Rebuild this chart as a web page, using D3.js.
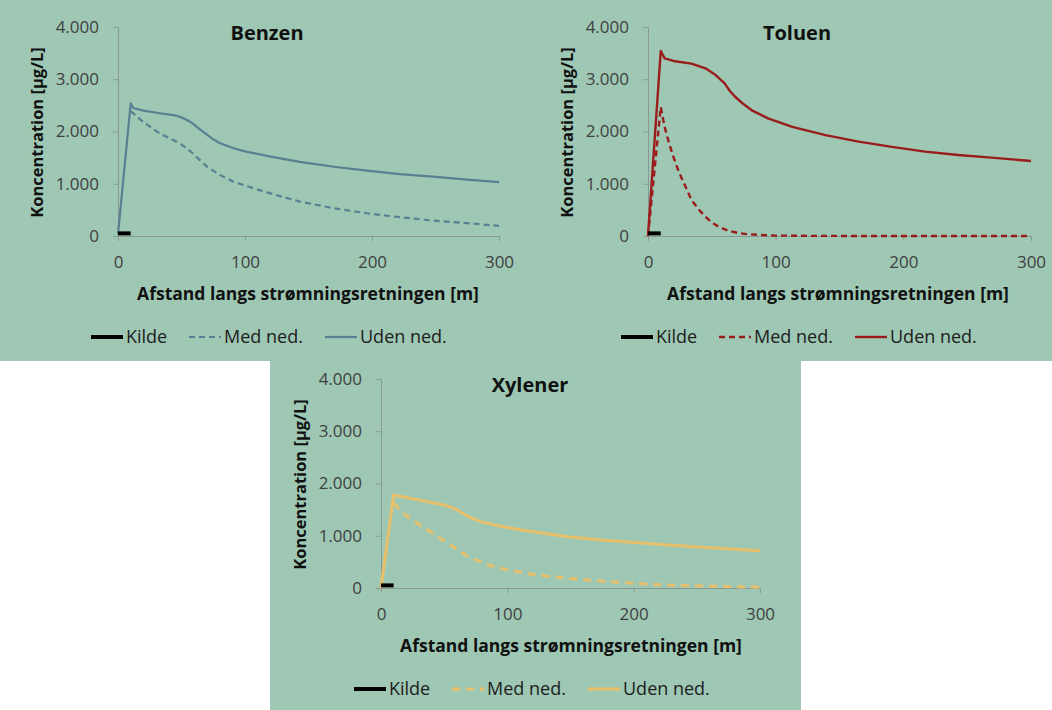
<!DOCTYPE html>
<html lang="da">
<head>
<meta charset="UTF-8">
<title>BTX koncentration</title>
<script src="https://d3js.org/d3.v7.min.js"></script>
<style>
  body { margin: 0; background: #fff; }
  svg text { font-family: "Open Sans", "Liberation Sans", sans-serif; }
</style>
</head>
<body>
<svg id="svg1" width="1052" height="710"></svg>
<script>
// data ---------------------------------------------------------------
const xTicks = [0, 100, 200, 300];
const yTicks = [0, 1000, 2000, 3000, 4000];
const legendNames = ["Kilde", "Med ned.", "Uden ned."];

const kildeX = [0, 10];
const kildeY = [50, 50];

// Benzen
const benzenUdenX = [0, 10, 12, 20, 33, 45, 51, 55, 59, 64, 70, 75, 80, 91, 100, 117, 143, 170, 196, 222, 248, 275, 300];
const benzenUdenY = [30, 2540, 2450, 2400, 2350, 2310, 2260, 2210, 2150, 2050, 1940, 1850, 1780, 1680, 1620, 1535, 1420, 1325, 1250, 1185, 1135, 1080, 1030];
const benzenMedX = [10, 20, 33, 49, 59, 65, 70, 80, 91, 107, 125, 143, 170, 196, 222, 248, 275, 300];
const benzenMedY = [2390, 2180, 1960, 1770, 1580, 1440, 1330, 1170, 1040, 910, 780, 660, 530, 435, 360, 295, 245, 195];

// Toluen
const toluenUdenX = [0, 10, 13, 20, 34, 45, 53, 60, 64, 68, 75, 81, 94, 113, 139, 165, 191, 217, 243, 269, 300];
const toluenUdenY = [0, 3540, 3400, 3350, 3300, 3210, 3080, 2920, 2780, 2670, 2520, 2410, 2250, 2090, 1930, 1805, 1705, 1615, 1550, 1500, 1435];
const toluenMedX = [0, 10, 13, 16, 19, 23, 27, 31, 34, 40, 45, 50, 55, 63, 71, 79, 87, 100, 130, 200, 300];
const toluenMedY = [0, 2470, 2090, 1820, 1580, 1300, 1070, 860, 690, 500, 370, 260, 180, 100, 55, 33, 20, 8, 2, 0, 0];

// Xylener
const xylenerUdenX = [0, 10, 16, 37, 50, 58, 64, 69, 79, 90, 111, 148, 174, 201, 227, 254, 300];
const xylenerUdenY = [0, 1780, 1750, 1650, 1590, 1525, 1440, 1365, 1270, 1205, 1110, 980, 920, 870, 825, 780, 715];
const xylenerMedX = [10, 21, 37, 53, 69, 85, 101, 122, 148, 174, 201, 227, 254, 300];
const xylenerMedY = [1620, 1365, 1110, 855, 600, 440, 345, 250, 185, 135, 90, 57, 38, 13];

// layout ---------------------------------------------------------------
const svg = d3.select("#svg1");
const bg = "#9ec8b4";

// green backgrounds: one block for the top row, one under it
svg.append("rect").attr("x", 0).attr("y", 0).attr("width", 1052).attr("height", 361).attr("fill", bg);
svg.append("rect").attr("x", 270).attr("y", 361).attr("width", 531).attr("height", 349).attr("fill", bg);

const panels = [
  { title: "Benzen", color: "#5b7f92", x0: 118, x1: 499, y0: 236, y1: 27, dash: "6,4", width: 2.2,
    uden: [benzenUdenX, benzenUdenY], med: [benzenMedX, benzenMedY] },
  { title: "Toluen", color: "#9a1c1c", x0: 648, x1: 1031, y0: 236, y1: 27, dash: "6,4", width: 2.4,
    uden: [toluenUdenX, toluenUdenY], med: [toluenMedX, toluenMedY] },
  { title: "Xylener", color: "#e8c06b", x0: 381, x1: 760, y0: 588, y1: 379, dash: "8,6", width: 3,
    uden: [xylenerUdenX, xylenerUdenY], med: [xylenerMedX, xylenerMedY] }
];

const legendOffsets = [-27, 71, 207];

panels.forEach(p => {
  const g = svg.append("g");
  const x = d3.scaleLinear().domain([0, 300]).range([p.x0, p.x1]);
  const y = d3.scaleLinear().domain([0, 4000]).range([p.y0, p.y1]);

  // axes
  const yAxis = g.append("g").attr("transform", `translate(${p.x0},0)`)
    .call(d3.axisLeft(y).tickValues(yTicks).tickSize(5).tickPadding(14)
      .tickFormat(d => d === 0 ? "0" : d3.format(",")(d).replace(",", ".")));
  const xAxis = g.append("g").attr("transform", `translate(0,${p.y0})`)
    .call(d3.axisBottom(x).tickValues(xTicks).tickSize(5).tickPadding(15));
  [xAxis, yAxis].forEach(a => {
    a.select(".domain").attr("stroke", "#8a9a93").attr("stroke-width", 1);
    a.selectAll(".tick line").attr("stroke", "#8a9a93");
    a.selectAll(".tick text").attr("fill", "#404040").attr("font-size", 17)
      .style("font-family", "'Open Sans', sans-serif");
  });

  // lines
  const line = d3.line().x(d => x(d[0])).y(d => y(d[1]));
  const zipXY = (xs, ys) => xs.map((v, i) => [v, ys[i]]);

  g.append("path").datum(zipXY(p.med[0], p.med[1]))
    .attr("d", line).attr("fill", "none").attr("stroke", p.color)
    .attr("stroke-width", p.width).attr("stroke-dasharray", p.dash)
    .attr("stroke-linejoin", "round");
  g.append("path").datum(zipXY(p.uden[0], p.uden[1]))
    .attr("d", line).attr("fill", "none").attr("stroke", p.color)
    .attr("stroke-width", p.width).attr("stroke-linejoin", "round");
  g.append("path").datum(zipXY(kildeX, kildeY))
    .attr("d", line).attr("fill", "none").attr("stroke", "#000")
    .attr("stroke-width", 4);

  // title and axis labels
  g.append("text").text(p.title)
    .attr("x", p.x0 + 149).attr("y", p.y1 + 13)
    .attr("text-anchor", "middle").attr("font-size", 20).attr("font-weight", "bold").attr("fill", "#111");
  g.append("text").text("Afstand langs strømningsretningen [m]")
    .attr("x", p.x0 + 190).attr("y", p.y0 + 64)
    .attr("text-anchor", "middle").attr("font-size", 17.5).attr("font-weight", "bold").attr("fill", "#111");
  const ly = (p.y0 + p.y1) / 2 + 1;
  g.append("text").text("Koncentration [µg/L]")
    .attr("transform", `rotate(-90 ${p.x0 - 81} ${ly})`)
    .attr("x", p.x0 - 81).attr("y", ly)
    .attr("dy", "0.35em")
    .attr("text-anchor", "middle").attr("font-size", 16.5).attr("font-weight", "bold").attr("fill", "#111");

  // legend
  const legY = p.y0 + 101;
  legendNames.forEach((name, i) => {
    const lx = p.x0 + legendOffsets[i];
    const item = g.append("g");
    const ln = item.append("line")
      .attr("x1", lx).attr("x2", lx + 32).attr("y1", legY).attr("y2", legY);
    if (i === 0) ln.attr("stroke", "#000").attr("stroke-width", 4);
    else ln.attr("stroke", p.color).attr("stroke-width", p.width);
    if (i === 1) ln.attr("stroke-dasharray", p.dash);
    item.append("text").text(name)
      .attr("x", lx + 35).attr("y", legY).attr("dy", "0.35em")
      .attr("font-size", 18).attr("fill", "#202020");
  });
});
</script>
</body>
</html>
